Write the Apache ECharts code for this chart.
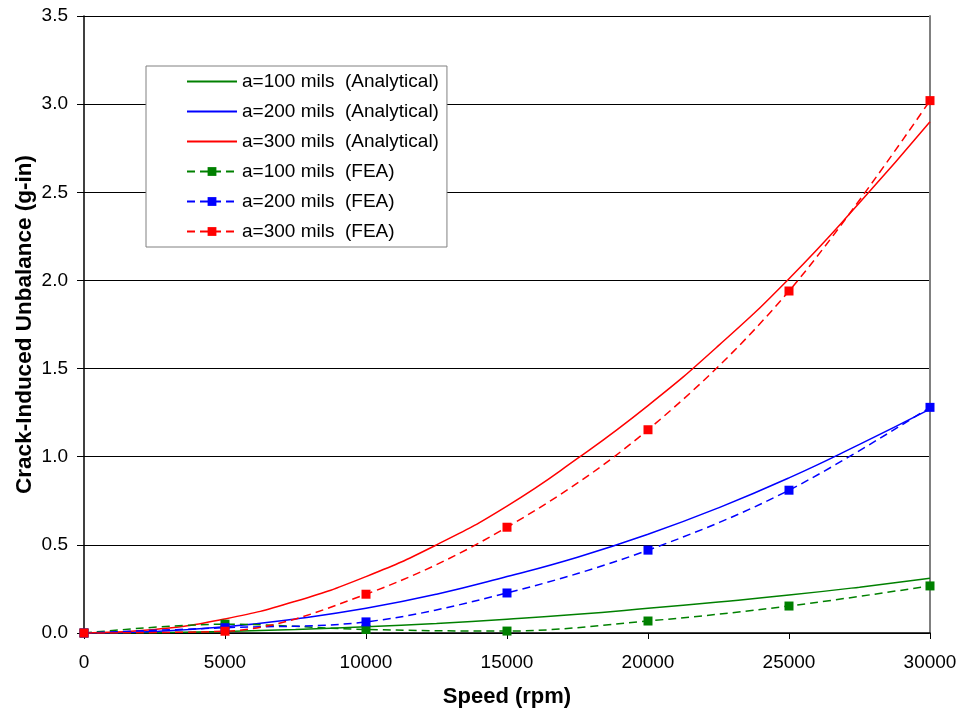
<!DOCTYPE html>
<html><head><meta charset="utf-8">
<script src="https://cdn.jsdelivr.net/npm/echarts@6/dist/echarts.min.js"></script>
<style>html,body{margin:0;padding:0;background:#fff}#c{width:959px;height:713px}</style>
</head><body><div id="c"></div>
<script>
// Analytical curves (read at 2500 rpm steps)
const speedFine = [0,2500,5000,7500,10000,12500,15000,17500,20000,22500,25000,27500,30000];
const anal100 = [0,0.002,0.009,0.02,0.035,0.054,0.078,0.106,0.14,0.176,0.215,0.26,0.31];
const anal200 = [0,0.009,0.035,0.08,0.14,0.22,0.32,0.43,0.56,0.71,0.88,1.07,1.27];
const anal300 = [0,0.02,0.08,0.18,0.32,0.50,0.72,0.99,1.29,1.63,2.01,2.44,2.90];
// FEA points
const speedFEA = [0,5000,10000,15000,20000,25000,30000];
const fea100 = [0,0.05,0.02,0.011,0.068,0.153,0.267];
const fea200 = [0,0.03,0.063,0.227,0.47,0.81,1.28];
const fea300 = [0,0.01,0.22,0.60,1.153,1.94,3.02];
const names = ['a=100 mils  (Analytical)','a=200 mils  (Analytical)','a=300 mils  (Analytical)',
  'a=100 mils  (FEA)','a=200 mils  (FEA)','a=300 mils  (FEA)'];
const colors = ['#008000','#0000ff','#ff0000'];
const F = 'Liberation Sans, Arial, sans-serif';
const zip = (xs, ys) => xs.map((x,i)=>[x, ys[i]]);
const analSeries = [anal100, anal200, anal300].map((d,i)=>({
  name: names[i], type:'line', data: zip(speedFine,d), smooth:true, showSymbol:false, symbol:'none',
  lineStyle:{color:colors[i], width:1.5}, itemStyle:{color:colors[i]}, z:3
}));
const feaSeries = [fea100, fea200, fea300].map((d,i)=>({
  name: names[i+3], type:'line', data: zip(speedFEA,d), smooth:0.35,
  symbol:'rect', symbolSize:9,
  lineStyle:{color:colors[i], width:1.5, type:[8,5]}, itemStyle:{color:colors[i]}, z:4
}));
const legendData = names.map((n,i)=> i<3 ? {name:n, itemStyle:{opacity:0}} : {name:n});
const chart = echarts.init(document.getElementById('c'), null, {renderer:'canvas'});
chart.setOption({
  animation:false,
  backgroundColor:'#fff',
  grid:{left:84, right:29, top:16, bottom:80, containLabel:false, outerBoundsMode:'none'},
  legend:{
    orient:'vertical', left:146, top:66, data:legendData,
    backgroundColor:'#fff', borderColor:'#808080', borderWidth:1,
    padding:[6,8,6,40], itemGap:11, itemWidth:50, itemHeight:11,
    textStyle:{fontFamily:F, fontSize:19, color:'#000'}
  },
  xAxis:{
    type:'value', min:0, max:30000, interval:5000,
    name:'Speed (rpm)', nameLocation:'middle', nameGap:53, nameMoveOverlap:false,
    nameTextStyle:{fontFamily:F, fontSize:22, fontWeight:'bold', color:'#000'},
    axisLine:{lineStyle:{color:'#000', width:1.5}},
    axisTick:{show:true, length:6, lineStyle:{color:'#000'}},
    axisLabel:{fontFamily:F, fontSize:19, color:'#000', margin:20, formatter:v=>String(v)},
    splitLine:{show:false}
  },
  yAxis:[{
    type:'value', min:0, max:3.5, interval:0.5,
    name:'Crack-Induced Unbalance (g-in)', nameLocation:'middle', nameGap:48, nameMoveOverlap:false,
    nameTextStyle:{fontFamily:F, fontSize:22.5, fontWeight:'bold', color:'#000'},
    axisLine:{show:true, lineStyle:{color:'#000', width:1.5}},
    axisTick:{show:true, length:7, lineStyle:{color:'#000'}},
    axisLabel:{fontFamily:F, fontSize:19, color:'#000', margin:16, formatter:v=>v.toFixed(1)},
    splitLine:{show:true, lineStyle:{color:'#000', width:1}}
  },{
    type:'value', min:0, max:3.5, interval:0.5, position:'right',
    axisLine:{show:true, lineStyle:{color:'#808080', width:2}},
    axisTick:{show:false}, axisLabel:{show:false}, splitLine:{show:false}
  }],
  series: analSeries.concat(feaSeries)
});
</script></body></html>
